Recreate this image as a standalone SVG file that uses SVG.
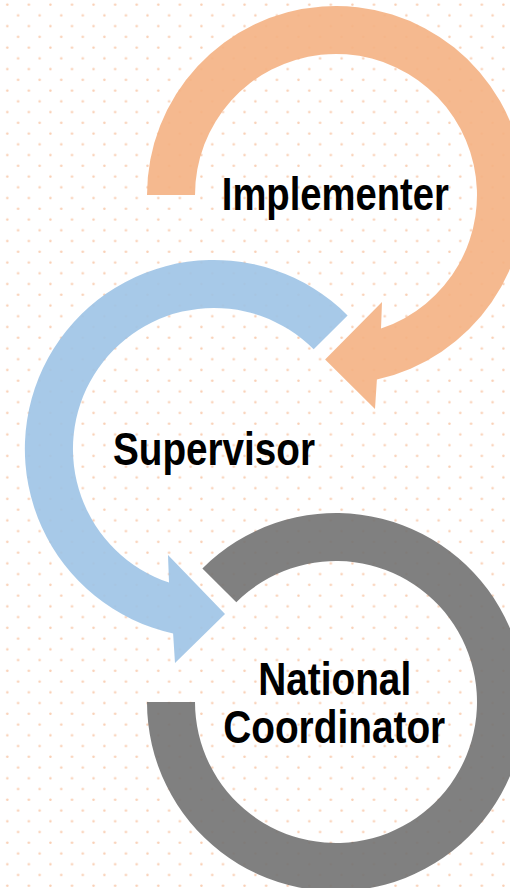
<svg xmlns="http://www.w3.org/2000/svg" width="510" height="888" viewBox="0 0 510 888">
  <defs>
    <pattern id="dots" patternUnits="userSpaceOnUse" x="0" y="0" width="21.57" height="21.49">
      <circle cx="7.3" cy="4.7" r="1.25" fill="#F9CFB4"/>
      <circle cx="18.1" cy="15.45" r="1.25" fill="#F9CFB4"/>
    </pattern>
  </defs>
  <style>
    .lbl { font-family: "Liberation Sans", Arial, sans-serif; font-weight: bold; font-size: 46px; fill: #000; text-anchor: middle; }
    .shape { fill-opacity: 0.9; stroke: none; }
  </style>
  <rect x="0" y="0" width="510" height="888" fill="#FFFFFF"/>
  <rect x="0" y="0" width="510" height="888" fill="url(#dots)"/>

  <g id="node-implementer">
    <path class="shape" fill="#F4B183" d="M 147,195 A 189 189 0 1 1 376.9,379.5 L 375,409 L 325.1,359.6 L 382,302 L 381,328.6 A 141 141 0 1 0 195,195 Z"/>
    <text class="lbl" x="335.3" y="210" textLength="227" lengthAdjust="spacingAndGlyphs">Implementer</text>
  </g>

  <g id="node-supervisor">
    <path class="shape" fill="#9DC3E6" d="M 347.6,315.4 A 189 189 0 1 0 173.1,633.5 L 175,663 L 225,614 L 168,555 L 169,582.6 A 141 141 0 1 1 313.7,349.3 Z"/>
    <text class="lbl" x="214" y="465" textLength="202" lengthAdjust="spacingAndGlyphs">Supervisor</text>
  </g>

  <g id="node-national-coordinator">
    <path class="shape" fill="#727272" d="M 202.4,568.4 A 189 189 0 1 1 147,702 L 195,702 A 141 141 0 1 0 236.3,602.3 Z"/>
    <text class="lbl" x="334.7" y="695" textLength="153" lengthAdjust="spacingAndGlyphs">National</text>
    <text class="lbl" x="334.2" y="743" textLength="222" lengthAdjust="spacingAndGlyphs">Coordinator</text>
  </g>

  <g id="connectors"></g>
</svg>
